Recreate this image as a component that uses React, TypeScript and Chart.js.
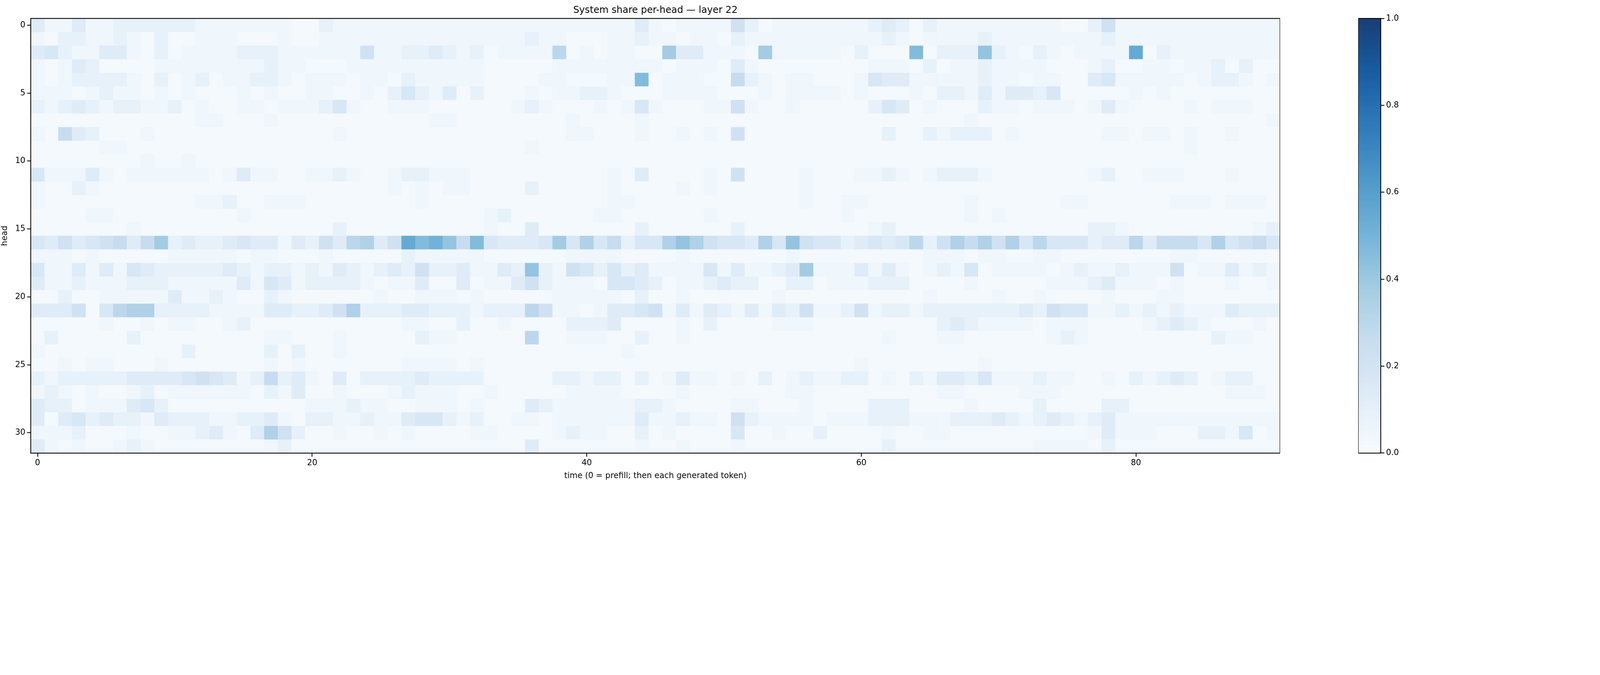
import React, { useEffect, useRef } from "react";
import { Chart, registerables } from "chart.js";
Chart.register(...registerables);

const TITLE = "System share per-head — layer 22";
const X_LABEL = "time (0 = prefill; then each generated token)";
const Y_LABEL = "head";
const X_TICKS = [0, 20, 40, 60, 80];
const Y_TICKS = [0, 5, 10, 15, 20, 25, 30];
const CB_TICKS = [0, 0.2, 0.4, 0.6, 0.8, 1.0];
const N_TIME = 91;
const N_HEADS = 32;
// each char = share level: '0' ≈ 0.015, then steps of 0.04 ('1'=0.04 ... 'f'=0.60)
const LEVELS = "0123456789abcdef";

const rowsTop = [
  "31131122222211111110021" + "11111111111111111111131" + "01111520111111123202111" + "1111110025111111111111",
  "10221121020011100010011" + "11111111111112110001121" + "10110211111111112101111" + "2111111112111111111111",
  "34211331020111122211111" + "15112232120111170101100" + "933111091111102000b0222" + "a2102101111d0211111111",
  "10132000011111111211000" + "11111111110000011111111" + "01110310000000011102011" + "2111100012001101120200",
  "10122221020120112210111" + "011021111100001100011b0" + "11100621011000143311111" + "2110110034111110122101",
  "11101211010100010100110" + "01024213020001011221000" + "11110001011110100010221" + "3133240000010100000000",
  "21232122112010011011124" + "10011100000012100010141" + "00011510010000024301000" + "2110111013100001011100",
  "00000000000011000100000" + "00000011000000001000010" + "00000000000000000000001" + "0000000000000000000001",
  "10632000100000000000001" + "00000000000000001100010" + "01010500000000002002122" + "2010000001101101001000",
  "00000110000000000000000" + "00000000000001000000000" + "00000000000000000000000" + "0000000000000001000000",
  "00000000100100000000000" + "00000000000000000000000" + "00000000000000000000000" + "0000000000000000000000",
  "41113101111110131100112" + "10012211100000000001030" + "00010500001000112101222" + "1000000012001110001000",
  "10021000000000000000000" + "00010101100002000001000" + "01010000001000000000000" + "0000000000000000000000",
  "10000000000011200111000" + "00000100000000000001100" + "00000000001001100000001" + "0000001100000011101110",
  "00001100000000010000000" + "00000000001200000011000" + "00010000000001000000001" + "0100000000000000000000",
  "00000001000000000000002" + "00000000001003000000020" + "00000200000000012000000" + "0000000022100000000012",
];
const rowsBottom = [
  "43534563692322343313253" + "7835dbca6b4333494846244" + "8a8544384a5442343472586" + "8584744423373666484564",
  "11101000001111101100010" + "00002111110000001111000" + "01000000010000000001110" + "1100110000000011000000",
  "41131314322222321221213" + "2123252231132a215424231" + "11141311239111313101214" + "0111101211211150113121",
  "31121112221111131431222" + "21011300301135211104432" + "01123220022011122200001" + "0000011123111010001001",
  "00200111113112100210000" + "00100111010000011111020" + "01000000100000000001000" + "0100100001000110000000",
  "33350478822221111332235" + "82223322212227511013345" + "13132131325112512212222" + "2223254411212121113222",
  "00000100101100120000000" + "00001100200100002223000" + "01020000111000000000232" + "1111011100001232100010",
  "02000002000000000110001" + "00000211000007001110020" + "01000000000000001000110" + "0000012100000000021100",
  "10000000000200000202001" + "00000000000000000000100" + "00000000000000000000000" + "0000000000000000000000",
  "00101100010000000101000" + "00001111010000000000000" + "00000000000000100000000" + "1000000000000000000000",
  "21222223333454312623103" + "02222322220000022122020" + "13110102012112201021332" + "4111211001021232012200",
  "12101001201111110213001" + "00012111001000001111000" + "01000000011000000000110" + "0001110000000000001110",
  "32201113420000000000111" + "21100111010003211111122" + "10000110001000022200001" + "0000200002200000000000",
  "30342322132221122310221" + "12113442120011011111131" + "12110521111011122211122" + "2321232123111111111111",
  "11120001001123103852001" + "00101000011000012110020" + "10000400100200001001100" + "0000000013111000221401",
  "31010012100000000120000" + "00000000000003000000010" + "01000100000000002000000" + "0000111102000000000000",
];

const BLUES = ["#f7fbff", "#deebf7", "#c6dbef", "#9ecae1", "#6baed6", "#4292c6", "#2171b5", "#08519c", "#08306b"];

function hex(h: string) {
  return [parseInt(h.slice(1, 3), 16), parseInt(h.slice(3, 5), 16), parseInt(h.slice(5, 7), 16)];
}
function blues(v: number) {
  const t = Math.max(0, Math.min(1, v)) * (BLUES.length - 1);
  const i = Math.min(BLUES.length - 2, Math.floor(t));
  const f = t - i;
  const a = hex(BLUES[i]), b = hex(BLUES[i + 1]);
  const c = a.map((x, k) => Math.round(x + (b[k] - x) * f));
  return `rgb(${c[0]},${c[1]},${c[2]})`;
}
function decode(ch: string) {
  const i = LEVELS.indexOf(ch);
  return i <= 0 ? 0.015 : i * 0.04;
}

const FONT = "'DejaVu Sans', sans-serif";
const W = 5733, H = 1728;
const TOP = 66, BOTTOM = 1623, LEFT = 110, RIGHT = 4586;
const CB_LEFT = 4866, CB_W = 81, CB_CANVAS = 220;

export default function App() {
  const mainRef = useRef<HTMLCanvasElement>(null);
  const cbRef = useRef<HTMLCanvasElement>(null);
  const S = (typeof window !== "undefined" ? window.innerWidth : W) / W;

  useEffect(() => {
    const rows = [...rowsTop, ...rowsBottom];
    const cells: { x: number; y: number; v: number }[] = [];
    for (let h = 0; h < N_HEADS; h++)
      for (let t = 0; t < N_TIME; t++) cells.push({ x: t, y: h, v: decode(rows[h][t] || "0") });

    const lw = Math.max(1, 3 * S);
    const fs = 29 * S;
    const tick = (sz: number) => ({ color: "#000", font: { size: sz, family: FONT }, padding: 6 * S, maxRotation: 0 });
    const grid = { drawOnChartArea: false, drawTicks: true, tickLength: 13 * S, tickWidth: lw, color: "#000" };

    const heatPlugin = {
      id: "heat",
      beforeDatasetsDraw(chart: any) {
        const { ctx, scales } = chart;
        const xs = scales.x, ys = scales.y;
        ctx.save();
        for (const c of cells) {
          const x0 = xs.getPixelForValue(c.x - 0.5), x1 = xs.getPixelForValue(c.x + 0.5);
          const y0 = ys.getPixelForValue(c.y - 0.5), y1 = ys.getPixelForValue(c.y + 0.5);
          ctx.fillStyle = blues(c.v);
          ctx.fillRect(x0, Math.min(y0, y1), x1 - x0 + 0.6, Math.abs(y1 - y0) + 0.6);
        }
        ctx.restore();
      },
      afterDraw(chart: any) {
        const { ctx, chartArea: a } = chart;
        ctx.save();
        ctx.strokeStyle = "#000";
        ctx.lineWidth = lw;
        ctx.strokeRect(a.left, a.top, a.right - a.left, a.bottom - a.top);
        ctx.fillStyle = "#000";
        ctx.font = `${34 * S}px ${FONT}`;
        ctx.textAlign = "center";
        ctx.textBaseline = "bottom";
        ctx.fillText(TITLE, (a.left + a.right) / 2, a.top - 12 * S);
        ctx.restore();
      },
    };

    const main = new Chart(mainRef.current!, {
      type: "scatter",
      data: { datasets: [{ data: cells.map((c) => ({ x: c.x, y: c.y })), pointRadius: 0, pointHoverRadius: 0 }] },
      options: {
        animation: false,
        responsive: false,
        layout: { padding: { top: TOP * S, right: 0, left: 0, bottom: 0 } },
        plugins: { legend: { display: false }, tooltip: { enabled: false }, title: { display: false } },
        scales: {
          x: {
            type: "linear", min: -0.5, max: N_TIME - 0.5,
            afterBuildTicks: (s: any) => { s.ticks = X_TICKS.map((v) => ({ value: v })); },
            afterFit: (s: any) => { s.height = (H - BOTTOM) * S; },
            grid, border: { display: false },
            ticks: tick(fs),
            title: { display: true, text: X_LABEL, color: "#000", font: { size: fs, family: FONT }, padding: { top: 4 * S } },
          },
          y: {
            type: "linear", min: -0.5, max: N_HEADS - 0.5, reverse: true,
            afterBuildTicks: (s: any) => { s.ticks = Y_TICKS.map((v) => ({ value: v })); },
            afterFit: (s: any) => { s.width = LEFT * S; },
            grid, border: { display: false },
            ticks: tick(fs),
            title: { display: true, text: Y_LABEL, color: "#000", font: { size: fs, family: FONT }, padding: 0 },
          },
        },
      },
      plugins: [heatPlugin],
    } as any);

    const cbPlugin = {
      id: "cb",
      beforeDatasetsDraw(chart: any) {
        const { ctx, chartArea: a } = chart;
        const ys = chart.scales.y;
        ctx.save();
        const step = 0.5;
        for (let p = a.top; p < a.bottom; p += step) {
          ctx.fillStyle = blues(ys.getValueForPixel(p + step / 2));
          ctx.fillRect(a.left, p, a.right - a.left, step + 0.3);
        }
        ctx.strokeStyle = "#000";
        ctx.lineWidth = lw;
        ctx.strokeRect(a.left, a.top, a.right - a.left, a.bottom - a.top);
        ctx.restore();
      },
    };
    const cb = new Chart(cbRef.current!, {
      type: "scatter",
      data: { datasets: [{ data: [], pointRadius: 0 }] },
      options: {
        animation: false,
        responsive: false,
        layout: { padding: { top: TOP * S, bottom: (H - BOTTOM) * S, left: 0, right: 0 } },
        plugins: { legend: { display: false }, tooltip: { enabled: false } },
        scales: {
          x: { display: false, min: 0, max: 1 },
          y: {
            position: "right", min: 0, max: 1,
            afterBuildTicks: (s: any) => { s.ticks = CB_TICKS.map((v) => ({ value: v })); },
            afterFit: (s: any) => { s.width = (CB_CANVAS - CB_W) * S; },
            grid, border: { display: false },
            ticks: { ...tick(fs), callback: (v: any) => Number(v).toFixed(1) },
          },
        },
      },
      plugins: [cbPlugin],
    } as any);

    return () => { main.destroy(); cb.destroy(); };
  }, []);

  return (
    <div style={{ position: "absolute", left: 0, top: 0, width: W * S, height: H * S, background: "#fff", overflow: "hidden" }}>
      <canvas ref={mainRef} width={RIGHT * S} height={H * S}
        style={{ position: "absolute", left: 0, top: 0, width: RIGHT * S, height: H * S }} />
      <canvas ref={cbRef} width={CB_CANVAS * S} height={H * S}
        style={{ position: "absolute", left: CB_LEFT * S, top: 0, width: CB_CANVAS * S, height: H * S }} />
    </div>
  );
}
